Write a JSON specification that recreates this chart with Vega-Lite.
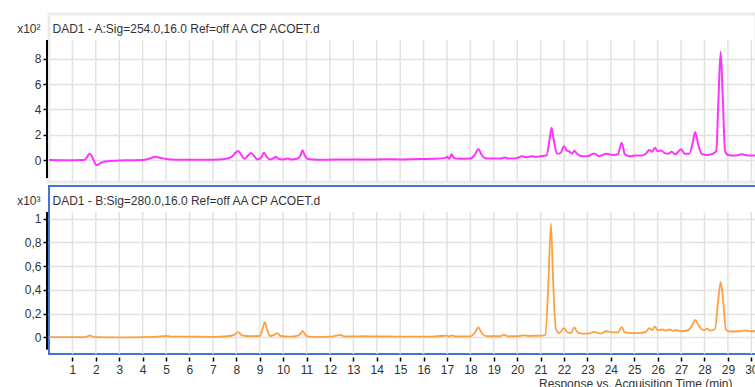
{
  "$schema": "https://vega.github.io/schema/vega-lite/v6.json",
  "padding": {"left": 15, "top": 12, "right": 0, "bottom": 0},
  "spacing": 0,
  "config": {"font": "Liberation Sans", "concat": {"spacing": 0}},
  "datasets": {
    "a": [
      {"t":0,"v":0},{"t":0.5,"v":-0.01},{"t":1.0,"v":-0.01},{"t":1.5,"v":0},{"t":1.62,"v":0.2},{"t":1.72,"v":0.5},{"t":1.8,"v":0.4},{"t":1.9,"v":0},{"t":2.0,"v":-0.35},{"t":2.05,"v":-0.4},{"t":2.15,"v":-0.3},{"t":2.3,"v":-0.15},{"t":2.6,"v":-0.08},{"t":3.0,"v":-0.03},{"t":3.5,"v":-0.02},{"t":4.0,"v":0},{"t":4.3,"v":0.12},{"t":4.55,"v":0.25},{"t":4.7,"v":0.2},{"t":5.0,"v":0.08},{"t":5.5,"v":0.03},{"t":6.0,"v":0.02},{"t":6.5,"v":0.02},{"t":7.0,"v":0.03},{"t":7.5,"v":0.08},{"t":7.8,"v":0.25},{"t":7.95,"v":0.55},{"t":8.08,"v":0.72},{"t":8.2,"v":0.45},{"t":8.35,"v":0.1},{"t":8.5,"v":0.35},{"t":8.62,"v":0.55},{"t":8.75,"v":0.35},{"t":8.9,"v":0.05},{"t":9.05,"v":0.15},{"t":9.18,"v":0.6},{"t":9.3,"v":0.25},{"t":9.45,"v":0.05},{"t":9.6,"v":0.15},{"t":9.68,"v":0.26},{"t":9.8,"v":0.1},{"t":10.0,"v":0.05},{"t":10.2,"v":0.12},{"t":10.35,"v":0.05},{"t":10.6,"v":0.1},{"t":10.75,"v":0.4},{"t":10.83,"v":0.77},{"t":10.93,"v":0.35},{"t":11.05,"v":0.08},{"t":11.5,"v":0.03},{"t":12.0,"v":0.03},{"t":12.5,"v":0.05},{"t":13.0,"v":0.04},{"t":13.5,"v":0.05},{"t":14.0,"v":0.05},{"t":14.5,"v":0.06},{"t":15.0,"v":0.05},{"t":15.5,"v":0.06},{"t":16.0,"v":0.08},{"t":16.5,"v":0.1},{"t":16.9,"v":0.15},{"t":17.0,"v":0.25},{"t":17.1,"v":0.1},{"t":17.2,"v":0.45},{"t":17.3,"v":0.15},{"t":17.5,"v":0.1},{"t":18.0,"v":0.12},{"t":18.2,"v":0.45},{"t":18.34,"v":0.87},{"t":18.48,"v":0.4},{"t":18.7,"v":0.12},{"t":19.0,"v":0.12},{"t":19.3,"v":0.12},{"t":19.46,"v":0.2},{"t":19.6,"v":0.12},{"t":20.0,"v":0.15},{"t":20.2,"v":0.3},{"t":20.4,"v":0.22},{"t":20.6,"v":0.3},{"t":20.8,"v":0.25},{"t":21.0,"v":0.3},{"t":21.25,"v":0.35},{"t":21.38,"v":1.6},{"t":21.47,"v":2.56},{"t":21.56,"v":1.6},{"t":21.7,"v":0.5},{"t":21.85,"v":0.55},{"t":22.0,"v":1.1},{"t":22.12,"v":0.75},{"t":22.25,"v":0.65},{"t":22.35,"v":0.5},{"t":22.44,"v":0.74},{"t":22.55,"v":0.5},{"t":22.8,"v":0.3},{"t":23.0,"v":0.3},{"t":23.28,"v":0.52},{"t":23.5,"v":0.3},{"t":23.82,"v":0.5},{"t":24.1,"v":0.4},{"t":24.3,"v":0.45},{"t":24.46,"v":1.37},{"t":24.6,"v":0.45},{"t":24.8,"v":0.3},{"t":25.03,"v":0.35},{"t":25.3,"v":0.35},{"t":25.5,"v":0.5},{"t":25.64,"v":0.8},{"t":25.76,"v":0.65},{"t":25.88,"v":0.98},{"t":26.0,"v":0.7},{"t":26.15,"v":0.75},{"t":26.3,"v":0.55},{"t":26.45,"v":0.5},{"t":26.6,"v":0.65},{"t":26.75,"v":0.45},{"t":27.0,"v":0.85},{"t":27.15,"v":0.5},{"t":27.35,"v":0.5},{"t":27.5,"v":1.4},{"t":27.6,"v":2.22},{"t":27.72,"v":1.3},{"t":27.9,"v":0.45},{"t":28.1,"v":0.4},{"t":28.3,"v":0.45},{"t":28.5,"v":0.7},{"t":28.6,"v":5.0},{"t":28.69,"v":8.58},{"t":28.78,"v":5.0},{"t":28.88,"v":0.7},{"t":29.0,"v":0.4},{"t":29.3,"v":0.35},{"t":29.6,"v":0.45},{"t":29.9,"v":0.35},{"t":30.2,"v":0.35}
    ],
    "b": [
      {"t":0,"v":0},{"t":1.5,"v":0},{"t":1.65,"v":0.008},{"t":1.75,"v":0.015},{"t":1.85,"v":0.006},{"t":2.0,"v":0},{"t":3.0,"v":-0.002},{"t":4.0,"v":0},{"t":4.6,"v":0.004},{"t":5.0,"v":0.01},{"t":5.3,"v":0.004},{"t":6.0,"v":0.004},{"t":7.0,"v":0.003},{"t":7.6,"v":0.008},{"t":7.9,"v":0.02},{"t":8.08,"v":0.042},{"t":8.25,"v":0.015},{"t":8.6,"v":0.008},{"t":9.0,"v":0.01},{"t":9.12,"v":0.07},{"t":9.22,"v":0.125},{"t":9.32,"v":0.06},{"t":9.45,"v":0.01},{"t":9.62,"v":0.02},{"t":9.75,"v":0.034},{"t":9.9,"v":0.01},{"t":10.3,"v":0.005},{"t":10.6,"v":0.012},{"t":10.75,"v":0.03},{"t":10.83,"v":0.054},{"t":10.95,"v":0.02},{"t":11.1,"v":0.005},{"t":11.7,"v":0.003},{"t":12.0,"v":0.004},{"t":12.47,"v":0.02},{"t":12.6,"v":0.006},{"t":13.0,"v":0.006},{"t":13.5,"v":0.008},{"t":14.0,"v":0.006},{"t":14.5,"v":0.006},{"t":15.0,"v":0.004},{"t":16.0,"v":0.004},{"t":16.5,"v":0.006},{"t":17.0,"v":0.014},{"t":17.1,"v":0.006},{"t":17.2,"v":0.016},{"t":17.35,"v":0.006},{"t":18.0,"v":0.007},{"t":18.2,"v":0.04},{"t":18.34,"v":0.082},{"t":18.48,"v":0.035},{"t":18.7,"v":0.008},{"t":19.3,"v":0.008},{"t":19.43,"v":0.022},{"t":19.6,"v":0.008},{"t":20.0,"v":0.008},{"t":20.3,"v":0.015},{"t":20.5,"v":0.01},{"t":20.7,"v":0.012},{"t":21.0,"v":0.012},{"t":21.2,"v":0.02},{"t":21.33,"v":0.45},{"t":21.44,"v":0.96},{"t":21.53,"v":0.5},{"t":21.65,"v":0.07},{"t":21.8,"v":0.035},{"t":22.0,"v":0.076},{"t":22.15,"v":0.04},{"t":22.3,"v":0.035},{"t":22.44,"v":0.082},{"t":22.58,"v":0.04},{"t":22.8,"v":0.03},{"t":23.0,"v":0.03},{"t":23.3,"v":0.045},{"t":23.55,"v":0.03},{"t":23.8,"v":0.05},{"t":24.1,"v":0.04},{"t":24.3,"v":0.04},{"t":24.46,"v":0.085},{"t":24.6,"v":0.04},{"t":24.9,"v":0.035},{"t":25.2,"v":0.035},{"t":25.5,"v":0.045},{"t":25.64,"v":0.076},{"t":25.76,"v":0.06},{"t":25.88,"v":0.09},{"t":26.0,"v":0.06},{"t":26.2,"v":0.065},{"t":26.35,"v":0.055},{"t":26.5,"v":0.065},{"t":26.65,"v":0.055},{"t":26.8,"v":0.06},{"t":27.0,"v":0.05},{"t":27.3,"v":0.06},{"t":27.5,"v":0.11},{"t":27.6,"v":0.145},{"t":27.75,"v":0.1},{"t":27.9,"v":0.065},{"t":28.0,"v":0.06},{"t":28.1,"v":0.072},{"t":28.25,"v":0.055},{"t":28.45,"v":0.07},{"t":28.58,"v":0.3},{"t":28.69,"v":0.466},{"t":28.8,"v":0.3},{"t":28.92,"v":0.06},{"t":29.1,"v":0.048},{"t":29.5,"v":0.05},{"t":29.7,"v":0.058},{"t":30.0,"v":0.05},{"t":30.2,"v":0.05}
    ],
    "grid": [
      {"t":1},{"t":2},{"t":3},{"t":4},{"t":5},{"t":6},{"t":7},{"t":8},{"t":9},{"t":10},{"t":11},{"t":12},{"t":13},{"t":14},{"t":15},{"t":16},{"t":17},{"t":18},{"t":19},{"t":20},{"t":21},{"t":22},{"t":23},{"t":24},{"t":25},{"t":26},{"t":27},{"t":28},{"t":29},{"t":30}
    ],
    "one": [{"k": 1}]
  },
  "vconcat": [
    {
      "width": 707,
      "height": 168,
      "view": {"stroke": "#ebebeb", "strokeWidth": 3},
      "resolve": {"axis": {"x": "independent"}},
      "layer": [
        {
          "data": {"name": "grid"},
          "mark": {"type": "rule", "color": "#e2e2e2", "strokeWidth": 1.5},
          "encoding": {
            "x": {"field": "t", "type": "quantitative", "scale": {"domain": [0, 30.2], "nice": false, "zero": false},
              "axis": {"orient": "top", "labels": false, "ticks": false, "domain": false, "grid": false, "title": "DAD1 - A:Sig=254.0,16.0 Ref=off AA CP ACOET.d", "titleX": 3, "titleY": 14, "titleAlign": "left", "titleAnchor": "start", "titleBaseline": "middle", "titleFontSize": 12, "titleFontWeight": "normal", "titleColor": "#333333"}},
            "y": {"datum": 9.5, "type": "quantitative", "scale": {"domain": [-1.74, 11.56], "nice": false, "zero": false},
              "axis": {"values": [0, 2, 4, 6, 8], "tickCount": 10, "grid": true, "gridColor": "#e2e2e2", "gridWidth": 1.5, "domain": false, "ticks": true, "tickColor": "#000000", "tickSize": 4, "tickWidth": 1.5, "offset": 2, "labelPadding": 2, "labelFontSize": 12, "labelColor": "#333333", "labelOverlap": false, "title": "x10²", "titleAngle": 0, "titleX": -7, "titleY": 14, "titleAlign": "right", "titleBaseline": "middle", "titleFontWeight": "normal", "titleFontSize": 12, "titleColor": "#333333"}},
            "y2": {"datum": -1.74}
          }
        },
        {
          "data": {"name": "one"},
          "mark": {"type": "rule", "color": "#000000", "strokeWidth": 2},
          "encoding": {
            "x": {"datum": -0.085, "type": "quantitative", "axis": null},
            "y": {"datum": 9.5, "type": "quantitative"},
            "y2": {"datum": -1.43}
          }
        },
        {
          "data": {"name": "a"},
          "mark": {"type": "line", "color": "#ff33ff", "strokeWidth": 2, "interpolate": "monotone"},
          "encoding": {
            "x": {"field": "t", "type": "quantitative", "axis": null},
            "y": {"field": "v", "type": "quantitative"}
          }
        }
      ]
    },
    {
      "width": 707,
      "height": 168,
      "view": {"stroke": "#4575d4", "strokeWidth": 2},
      "resolve": {"axis": {"x": "independent"}},
      "layer": [
        {
          "data": {"name": "grid"},
          "mark": {"type": "rule", "color": "#e2e2e2", "strokeWidth": 1.5},
          "encoding": {
            "x": {"field": "t", "type": "quantitative", "scale": {"domain": [0, 30.2], "nice": false, "zero": false},
              "axis": {"orient": "top", "labels": false, "ticks": false, "domain": false, "grid": false, "title": "DAD1 - B:Sig=280.0,16.0 Ref=off AA CP ACOET.d", "titleX": 3, "titleY": 14, "titleAlign": "left", "titleAnchor": "start", "titleBaseline": "middle", "titleFontSize": 12, "titleFontWeight": "normal", "titleColor": "#333333"}},
            "y": {"datum": 1.057, "type": "quantitative", "scale": {"domain": [-0.142, 1.277], "nice": false, "zero": false},
              "axis": {"values": [0, 0.2, 0.4, 0.6, 0.8, 1], "tickCount": 10, "labelExpr": "replace(toString(datum.value), '.', ',')", "grid": true, "gridColor": "#e2e2e2", "gridWidth": 1.5, "domain": false, "ticks": true, "tickColor": "#000000", "tickSize": 4, "tickWidth": 1.5, "offset": 2, "labelPadding": 2, "labelFontSize": 12, "labelColor": "#333333", "labelOverlap": false, "title": "x10³", "titleAngle": 0, "titleX": -7, "titleY": 14, "titleAlign": "right", "titleBaseline": "middle", "titleFontWeight": "normal", "titleFontSize": 12, "titleColor": "#333333"}},
            "y2": {"datum": -0.142}
          }
        },
        {
          "data": {"name": "one"},
          "mark": {"type": "rule", "color": "#000000", "strokeWidth": 2},
          "encoding": {
            "x": {"datum": -0.085, "type": "quantitative", "axis": null},
            "y": {"datum": 1.057, "type": "quantitative"},
            "y2": {"datum": -0.105}
          }
        },
        {
          "data": {"name": "b"},
          "mark": {"type": "line", "color": "#ffa040", "strokeWidth": 1.8, "interpolate": "monotone"},
          "encoding": {
            "x": {"field": "t", "type": "quantitative",
              "axis": {"orient": "bottom", "values": [1,2,3,4,5,6,7,8,9,10,11,12,13,14,15,16,17,18,19,20,21,22,23,24,25,26,27,28,29,30], "tickCount": 40, "grid": false, "domain": false, "ticks": true, "tickColor": "#000000", "tickSize": 4, "tickWidth": 1.5, "offset": 3, "labelPadding": 3, "labelFontSize": 12, "labelColor": "#333333", "labelOverlap": false, "title": "Response vs. Acquisition Time (min)", "titleFontWeight": "normal", "titleFontSize": 12, "titleColor": "#333333", "titleAlign": "right", "titleAnchor": "end", "titleX": 683, "titleY": 26, "titleBaseline": "middle"}},
            "y": {"field": "v", "type": "quantitative"}
          }
        }
      ]
    }
  ]
}
